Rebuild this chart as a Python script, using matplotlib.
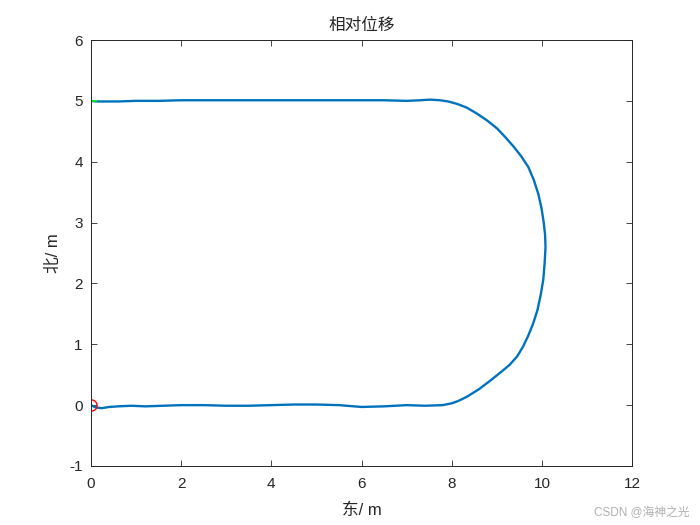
import matplotlib
matplotlib.use("Agg")
import matplotlib.pyplot as plt

plt.rcParams['font.family'] = ['Liberation Sans', 'Noto Sans CJK SC', 'DejaVu Sans']
plt.rcParams['axes.unicode_minus'] = False

# Track (east, north) in metres
east = [0.00, 0.05, 0.12, 0.24, 0.40, 0.60, 0.90, 1.20, 1.60, 2.00, 2.50, 3.00,
        3.50, 4.00, 4.50, 5.00, 5.50, 6.00, 6.50, 7.00, 7.40, 7.80, 8.00, 8.15, 8.34,
        8.60, 8.85, 9.07, 9.28, 9.45, 9.58, 9.69, 9.80, 9.90, 9.97, 10.03, 10.06,
        10.08, 10.07, 10.04, 9.99, 9.92, 9.82, 9.70, 9.54, 9.37, 9.18, 9.00, 8.78,
        8.56, 8.33, 8.12, 7.92, 7.74, 7.52, 7.30, 7.00, 6.50, 6.00, 5.50, 5.00, 4.50,
        4.00, 3.50, 3.00, 2.50, 2.00, 1.50, 1.00, 0.60, 0.30, 0.10, 0.00]
north = [0.00, -0.02, -0.04, -0.05, -0.03, -0.02, -0.01, -0.02, -0.01, 0.00, 0.00, -0.01,
         -0.01, 0.00, 0.01, 0.01, 0.00, -0.03, -0.02, 0.00, -0.01, 0.00, 0.03, 0.07, 0.14,
         0.26, 0.40, 0.53, 0.66, 0.80, 0.96, 1.13, 1.33, 1.56, 1.80, 2.06, 2.33,
         2.60, 2.80, 3.00, 3.24, 3.47, 3.70, 3.91, 4.09, 4.25, 4.41, 4.55, 4.68,
         4.79, 4.89, 4.95, 4.99, 5.01, 5.02, 5.01, 5.00, 5.01, 5.01, 5.01, 5.01, 5.01,
         5.01, 5.01, 5.01, 5.01, 5.01, 5.00, 5.00, 4.99, 4.99, 4.99, 5.00]

start_pt = (0.0, 0.0)
end_pt = (0.0, 5.0)

xticks = [0, 2, 4, 6, 8, 10, 12]
yticks = [-1, 0, 1, 2, 3, 4, 5, 6]

fig = plt.figure(figsize=(7, 5.25), dpi=100)
ax = fig.add_axes([0.13, 0.1124, 0.773, 0.8114])

ax.plot(east, north, color='#0072BD', linewidth=1.7, solid_joinstyle='round')
ax.plot(start_pt[0], start_pt[1], marker='o', markersize=8, markerfacecolor='none',
        markeredgecolor='red', linestyle='none', markeredgewidth=1.0)
ax.plot(end_pt[0], end_pt[1], marker='+', markersize=9, color='#00FF00',
        linestyle='none', markeredgewidth=1.2)

ax.set_xlim(0, 12)
ax.set_ylim(-1, 6)
ax.set_xticks(xticks)
ax.set_yticks(yticks)
ax.tick_params(direction='in', top=True, right=True, labelsize=11, length=4.5, width=0.6,
               colors='#262626')
ax.tick_params(axis='x', pad=8)
ax.tick_params(axis='y', pad=6)
for s in ax.spines.values():
    s.set_linewidth(0.7)
    s.set_color('#262626')

ax.set_title('相对位移', fontsize=12, color='#262626', pad=7)
ax.set_xlabel('东/ m', fontsize=12, color='#262626', labelpad=8)
ax.set_ylabel('北/ m', fontsize=12, color='#262626', labelpad=6)

fig.text(0.985, 0.012, 'CSDN @海神之光', ha='right', va='bottom', fontsize=8.5,
         color='#b0b0b0')

fig.savefig('out.png', dpi=100)
